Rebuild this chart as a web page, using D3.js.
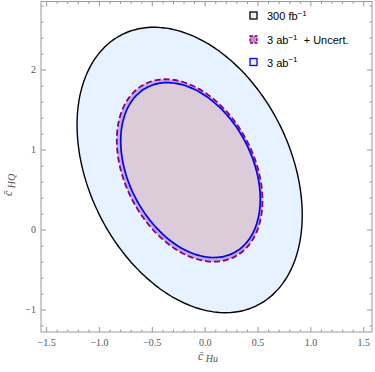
<!DOCTYPE html>
<html>
<head>
<meta charset="utf-8">
<script src="https://cdn.jsdelivr.net/npm/d3@7"></script>
<style>
  body { margin: 0; background: #fff; }
  svg text { font-family: "Liberation Serif", "DejaVu Serif", serif; }
  .leg text { font-family: "Liberation Sans", Arial, sans-serif; font-size: 11px; fill: #000; }
</style>
</head>
<body>
<svg id="chart" width="375" height="372"></svg>
<script>
// contour names and ellipse parameters (data units)
var names    = ["300", "unc", "3ab"];
var centerX  = [-0.147, -0.147, -0.139];
var centerY  = [0.750, 0.744, 0.749];
var halfW    = [1.065, 0.689, 0.660];
var halfH    = [1.784, 1.140, 1.093];
var corr     = [-0.316, -0.33, -0.333];

var xTicks = [-1.5, -1.0, -0.5, 0.0, 0.5, 1.0, 1.5];
var yTicks = [-1, 0, 1, 2];

var svg = d3.select("#chart");
var pLeft = 41, pRight = 372, pTop = 1.5, pBottom = 332;

var x = d3.scaleLinear().domain([-1.553, 1.578]).range([pLeft, pRight]);
var y = d3.scaleLinear().domain([-1.275, 2.856]).range([pBottom, pTop]);

function ellipsePts(i)
{
	var r = corr[i], q = Math.sqrt(1 - r * r);
	return d3.range(0, 360, 2).map(function(deg) {
		var t = deg * Math.PI / 180;
		return [centerX[i] + halfW[i] * Math.cos(t),
		        centerY[i] + halfH[i] * (r * Math.cos(t) + q * Math.sin(t))];
	});
}

var line = d3.line()
	.x(function(d) { return x(d[0]); })
	.y(function(d) { return y(d[1]); })
	.curve(d3.curveCardinalClosed);

var gBody = svg.append("g");

// 300 fb^-1
gBody.append("path")
	.attr("d", line(ellipsePts(0)))
	.attr("fill", "#e6f2ff")
	.attr("stroke", "#000")
	.attr("stroke-width", 1.4);

// 3 ab^-1 + uncert fill
gBody.append("path")
	.attr("d", line(ellipsePts(1)))
	.attr("fill", "#800080")
	.attr("fill-opacity", 0.3)
	.attr("stroke", "none");

// 3 ab^-1 fill
gBody.append("path")
	.attr("d", line(ellipsePts(2)))
	.attr("fill", "#eae2d7")
	.attr("fill-opacity", 0.6)
	.attr("stroke", "#0000ff")
	.attr("stroke-width", 1.7);

// dashed uncertainty outline
gBody.append("path")
	.attr("d", line(ellipsePts(1)))
	.attr("fill", "none")
	.attr("stroke", "#800080")
	.attr("stroke-width", 1.8)
	.attr("stroke-dasharray", "6,3");

// frame and ticks
var axisColor = "#999";
var gAxis = svg.append("g");
gAxis.append("rect")
	.attr("x", pLeft).attr("y", pTop)
	.attr("width", pRight - pLeft).attr("height", pBottom - pTop)
	.attr("fill", "none").attr("stroke", axisColor).attr("stroke-width", 1);

var xMinor = d3.range(-15, 16).map(function(k) { return k / 10; });
var yMinor = d3.range(-6, 15).map(function(k) { return k / 5; });

xMinor.forEach(function(v) {
	var major = Math.abs(v * 2 - Math.round(v * 2)) < 1e-6;
	var len = major ? 5 : 2.5;
	gAxis.append("line").attr("x1", x(v)).attr("x2", x(v)).attr("y1", pBottom).attr("y2", pBottom - len)
		.attr("stroke", axisColor);
	gAxis.append("line").attr("x1", x(v)).attr("x2", x(v)).attr("y1", pTop).attr("y2", pTop + len)
		.attr("stroke", axisColor);
});
yMinor.forEach(function(v) {
	var major = Math.abs(v - Math.round(v)) < 1e-6;
	var len = major ? 5 : 2.5;
	gAxis.append("line").attr("y1", y(v)).attr("y2", y(v)).attr("x1", pLeft).attr("x2", pLeft + len)
		.attr("stroke", axisColor);
	gAxis.append("line").attr("y1", y(v)).attr("y2", y(v)).attr("x1", pRight).attr("x2", pRight - len)
		.attr("stroke", axisColor);
});

function fmt(v, digits)
{
	var s = digits ? v.toFixed(digits) : String(v);
	return s.replace("-", "\u2212");
}

gAxis.selectAll(".xl").data(xTicks).enter().append("text")
	.attr("x", function(d) { return x(d); })
	.attr("y", pBottom + 14)
	.attr("text-anchor", "middle")
	.attr("font-size", 10)
	.attr("fill", "#555")
	.text(function(d) { return fmt(d, 1); });

gAxis.selectAll(".yl").data(yTicks).enter().append("text")
	.attr("x", pLeft - 5)
	.attr("y", function(d) { return y(d) + 3.5; })
	.attr("text-anchor", "end")
	.attr("font-size", 10)
	.attr("fill", "#555")
	.text(function(d) { return fmt(d); });

// axis titles
var xt = svg.append("text")
	.attr("x", 198).attr("y", 359.5)
	.attr("font-size", 12).attr("font-style", "italic").attr("fill", "#555");
xt.append("tspan").text("c\u0304");
xt.append("tspan").attr("dy", 2.5).attr("font-size", 10).text(" Hu");

var yt = svg.append("text")
	.attr("transform", "translate(12,196) rotate(-90)")
	.attr("font-size", 12).attr("font-style", "italic").attr("fill", "#555");
yt.append("tspan").text("c\u0304");
yt.append("tspan").attr("dy", 2.5).attr("font-size", 10).text(" HQ");

// legend
var legLabels = [["300 fb", "\u22121", ""], ["3 ab", "\u22121", "  + Uncert."], ["3 ab", "\u22121", ""]];
var legFill   = ["#e6f2ff", "#c88ccc", "#f2ece4"];
var legStroke = ["#000", "#800080", "#0000ff"];
var legDash   = [null, "3,1.5", null];
var legY      = [16, 40, 62.5];

var leg = svg.append("g").attr("class", "leg");
legLabels.forEach(function(lab, i) {
	leg.append("rect")
		.attr("x", 250).attr("y", legY[i] - 4)
		.attr("width", 7).attr("height", 7)
		.attr("fill", legFill[i])
		.attr("stroke", legStroke[i])
		.attr("stroke-width", 1.3)
		.attr("stroke-dasharray", legDash[i]);
	var t = leg.append("text").attr("x", 267).attr("y", legY[i] + 4)
		.attr("xml:space", "preserve").style("white-space", "pre");
	t.append("tspan").text(lab[0]);
	t.append("tspan").attr("dy", -4.5).attr("font-size", 8).text(lab[1]);
	if (lab[2]) t.append("tspan").attr("dy", 4.5).text(lab[2]);
});
</script>
</body>
</html>
